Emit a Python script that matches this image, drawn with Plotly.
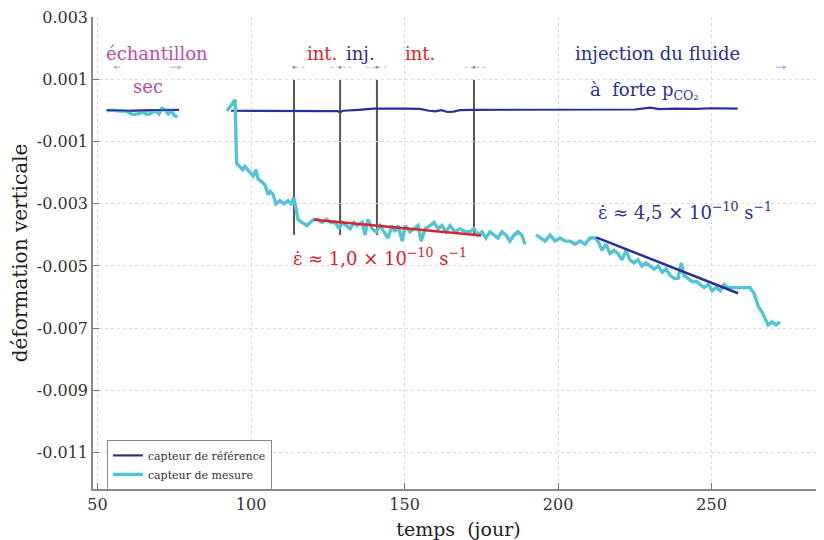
import plotly.graph_objects as go

# ---------------- data ----------------
# capteur de mesure (cyan) ; None = break in the record
meas_x = [53, 55, 57, 59, 61, 62, 63, 65, 66, 67, 69, 70, 71, 72, 73, 74, 75, 76,
          None,
          92.2, 93.8, 94.8, 95.3, 96.5, 97.3, 98, 99.7, 100.7, 101.6, 102.3, 103.6, 104.6,
          105.5, 106.2, 107.2, 108.1, 109.4, 110.7, 112, 113, 113.9, 114.6, 115.3, 116.6,
          118.2, 119.2, 120.5, 121.8, 123.1, 124.7, 126, 127.4, 128.7, 129.7, 131, 132.3,
          133.5, 134.5, 136.2, 137.1, 138.1, 139.4, 140.7, 142, 143.3, 144.6, 145.9, 146.9,
          147.9, 149.2, 150.2, 151.8, 153.1, 154.4, 155.4, 156.7, 158.3, 159.6, 160.9, 162.2,
          163.5, 164.8, 166.4, 168.1, 169.7, 171.3, 172.6, 173.9, 175.2, 176.5, 177.8, 179.1,
          180.4, 181.7, 183, 184.3, 185.7, 186.9, 188.2, 189.2,
          None,
          192.8, 194.1, 195.8, 197.4, 199, 200.6, 202.3, 203.9, 205.5, 207.2, 208.8, 210.4,
          212, 213, 214.3, 215.6, 216.9, 218.2, 219.5, 220.8, 222.1, 223.4, 224.7, 226,
          227.3, 228.6, 230, 231.3, 232.6, 233.9, 235.2, 236.5, 237.8, 239.1, 240.1, 241,
          242.3, 243.6, 245, 246.3, 247.6, 248.9, 250.2, 251.5, 252.8, 254.1, 255.4, 256.7,
          258, 259.3, 260.9, 262.5, 263.9, 265.2, 266.5, 267.8, 268.4, 269.7, 271, 272.3]
meas_y = [0.0, 0.00002, -0.00001, 0.0, -0.0001, -0.00012, -0.0001, -0.00005, -0.00012,
          -0.0001, 0.0, -0.0001, 0.00008, 0.00003, -0.0001, 0.0, -0.00015, -0.0002,
          None,
          0.0, 0.0002, 0.00035, -0.0017, -0.0018, -0.0019, -0.0018, -0.002, -0.0021, -0.0019,
          -0.0022, -0.0023, -0.0024, -0.0027, -0.0026, -0.0027, -0.003, -0.0029, -0.003,
          -0.0029, -0.003, -0.0028, -0.0032, -0.0035, -0.0036, -0.0037, -0.0036, -0.0035,
          -0.0035, -0.0036, -0.0035, -0.0036, -0.0036, -0.0038, -0.0036, -0.0037, -0.0038,
          -0.0036, -0.0037, -0.0036, -0.004, -0.0035, -0.0038, -0.0039, -0.0037, -0.0039,
          -0.0041, -0.0037, -0.0039, -0.0037, -0.0042, -0.0037, -0.0039, -0.0038, -0.0037,
          -0.0042, -0.0038, -0.0037, -0.0036, -0.0038, -0.0037, -0.0039, -0.0037, -0.0039,
          -0.0038, -0.0039, -0.0039, -0.0038, -0.004, -0.0039, -0.0041, -0.0039, -0.004,
          -0.0041, -0.0039, -0.004, -0.0042, -0.004, -0.0039, -0.004, -0.0043,
          None,
          -0.004, -0.0041, -0.0042, -0.004, -0.0042, -0.0041, -0.0042, -0.0042, -0.0043,
          -0.0042, -0.0043, -0.0041, -0.0041, -0.0042, -0.0045, -0.0043, -0.0046, -0.0045,
          -0.0046, -0.0048, -0.0045, -0.0048, -0.0049, -0.0048, -0.005, -0.0049, -0.005,
          -0.0051, -0.005, -0.0052, -0.0051, -0.0053, -0.0054, -0.0054, -0.0049, -0.0053,
          -0.0054, -0.0055, -0.0055, -0.0056, -0.0057, -0.0056, -0.0058, -0.0057, -0.0058,
          -0.0056, -0.0057, -0.0057, -0.0057, -0.0057, -0.0057, -0.0057, -0.0059, -0.0063,
          -0.0065, -0.0068, -0.0069, -0.0068, -0.0069, -0.0068]

# capteur de référence (dark blue)
ref_x = [53, 60, 65, 70, 76.5,
         None,
         93.5, 110, 120, 128, 129, 130, 135, 140, 150, 155, 158, 160, 162, 164, 166, 168,
         172, 190, 210, 220, 225, 230, 233, 238, 245, 250, 258.5]
ref_y = [0.00002, 0.0, 0.00001, 0.00002, 0.00003,
         None,
         0.0, 0.0, 0.0, -0.00001, -0.00004, 0.0, 0.00003, 0.00007, 0.00007, 0.00006, 0.0,
         -0.00002, 0.00002, -0.00004, -0.00003, 0.00002, 0.00003, 0.00004, 0.00004,
         0.00006, 0.00004, 0.0001, 0.00005, 0.00007, 0.00006, 0.00008, 0.00007]

# linear fits
fit1_x = [120.5, 175.0]
fit1_y = [-0.00351, -0.00402]
fit2_x = [212.4, 258.6]
fit2_y = [-0.00408, -0.00588]

# event markers (vertical lines)
event_x = [114.0, 129.0, 141.0, 172.6]
event_top = 0.001
event_bottom = -0.004

# tick labels
x_ticks = [50, 100, 150, 200, 250]
x_ticktext = ["50", "100", "150", "200", "250"]
y_ticks = [0.003, 0.001, -0.001, -0.003, -0.005, -0.007, -0.009, -0.011]
y_ticktext = ["0.003", "0.001", "-0.001", "-0.003", "-0.005", "-0.007", "-0.009", "-0.011"]

# ---------------- styling ----------------
CYAN = "#52C4D4"
NAVY = "#2B2F96"
RED = "#E0202A"
MAGENTA = "#C04AB0"
SERIF = "DejaVu Serif, Liberation Serif, serif"

fig = go.Figure()

# vertical event lines
for ex in event_x:
    fig.add_shape(type="line", x0=ex, x1=ex, y0=event_top, y1=event_bottom,
                  xref="x", yref="y", line=dict(color="#555555", width=2), layer="below")

fig.add_trace(go.Scatter(x=ref_x, y=ref_y, mode="lines", name="capteur de référence",
                         line=dict(color=NAVY, width=2.2), connectgaps=False))
fig.add_trace(go.Scatter(x=meas_x, y=meas_y, mode="lines", name="capteur de mesure",
                         line=dict(color=CYAN, width=3.4), connectgaps=False))
# reference line drawn again above so it stays visible over cyan at start
fig.add_trace(go.Scatter(x=ref_x[:5], y=ref_y[:5], mode="lines", showlegend=False,
                         line=dict(color=NAVY, width=1.6)))
fig.add_trace(go.Scatter(x=fit1_x, y=fit1_y, mode="lines", showlegend=False,
                         line=dict(color=RED, width=2.5)))
fig.add_trace(go.Scatter(x=fit2_x, y=fit2_y, mode="lines", showlegend=False,
                         line=dict(color=NAVY, width=2.5)))

# small interval arrows at the top
arrow_y = 0.0014
small_arrows = [  # (tail, head, color)
    (58.0, 55.0, "#D8A0D0"),
    (73.0, 77.5, "#D8A0D0"),
    (270.5, 274.5, "#A8A8E0"),
]
for tail, head, col in small_arrows:
    fig.add_annotation(x=head, y=arrow_y, ax=tail, ay=arrow_y, xref="x", yref="y",
                       axref="x", ayref="y", text="", showarrow=True, arrowhead=2,
                       arrowsize=0.8, arrowwidth=1, arrowcolor=col)
small_marks = [(114.5, 117.5, 114.0), (126.0, 132.5, 129.0),
               (137.5, 144.0, 141.0), (169.5, 176.5, 172.6)]
for a, b, c in small_marks:
    fig.add_trace(go.Scatter(x=[a, b], y=[arrow_y, arrow_y], mode="lines", showlegend=False,
                             line=dict(color="#E0A8C0", width=1, dash="dot")))
    fig.add_trace(go.Scatter(x=[c], y=[arrow_y], mode="markers", showlegend=False,
                             marker=dict(color="#9090D0", size=3)))

def label(x, y, text, color, size=18):
    fig.add_annotation(x=x, y=y, xref="x", yref="y", text=text, showarrow=False,
                       font=dict(family=SERIF, size=size, color=color))

label(69.4, 0.00183, "échantillon", MAGENTA)
label(66.4, 0.00078, "sec", MAGENTA)
label(123.1, 0.00183, "int.", RED)
label(135.8, 0.00183, "inj.", NAVY)
label(155.0, 0.00183, "int.", RED)
label(232.3, 0.00183, "injection du fluide", NAVY)
label(228.0, 0.00065, "à  forte p<sub>CO₂</sub>", NAVY)
label(142.0, -0.00471, "ε̇ ≈ 1,0 × 10<sup>−10</sup> s<sup>−1</sup>", RED)
label(241.4, -0.00323, "ε̇ ≈ 4,5 × 10<sup>−10</sup> s<sup>−1</sup>", NAVY)

axis_common = dict(
    showgrid=True, gridcolor="#DADADA", griddash="dot", gridwidth=1,
    zeroline=False, showline=True, linecolor="#8A8A8A", linewidth=1.5,
    ticks="inside", ticklen=6, tickcolor="#777777", ticklabeloverflow="allow",
    tickfont=dict(family=SERIF, size=16, color="#333333"),
)

# page body has an 8px margin: size the figure so the plot area lands where the reference has it
fig.update_layout(
    width=816, height=532,
    margin=dict(l=85, r=0, t=8, b=43),
    paper_bgcolor="white", plot_bgcolor="white",
    xaxis=dict(range=[48.53, 286.6], tickvals=x_ticks, ticktext=x_ticktext,
               title=dict(text="temps  (jour)", font=dict(family=SERIF, size=19, color="#222"),
                          standoff=13),
               **axis_common),
    yaxis=dict(range=[-0.012186, 0.00302], tickvals=y_ticks, ticktext=y_ticktext,
               title=dict(text="déformation verticale", font=dict(family=SERIF, size=20, color="#222"),
                          standoff=6),
               **axis_common),
    legend=dict(x=0.019, y=0.104, xanchor="left", yanchor="top",
                bgcolor="white", bordercolor="#888888", borderwidth=1,
                font=dict(family=SERIF, size=11, color="#333"),
                tracegroupgap=0, itemwidth=30),
    showlegend=True,
)

fig.write_html("out.html")
